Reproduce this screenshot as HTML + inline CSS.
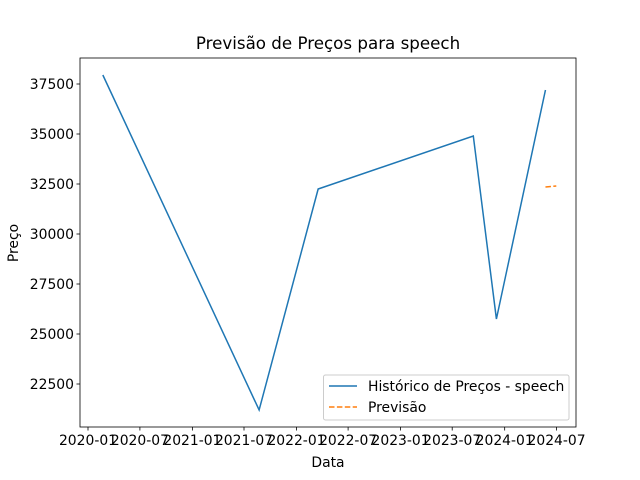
<!DOCTYPE html>
<html><head><meta charset="utf-8"><style>body{margin:0;background:#fff}svg{display:block;font-family:"DejaVu Sans","Liberation Sans",sans-serif}</style></head>
<body>
<svg id="c" width="640" height="480"></svg>
<script>
const histDates=["2020-02-22","2021-08-23","2022-03-18","2023-09-13","2023-12-03","2024-05-23"];
const histValues=[37950,21200,32250,34900,25750,37200];
const fcDates=["2024-05-23","2024-06-30"];
const fcValues=[32350,32400];
const xTicks=["2020-01","2020-07","2021-01","2021-07","2022-01","2022-07","2023-01","2023-07","2024-01","2024-07"];
const yTicks=[22500,25000,27500,30000,32500,35000,37500];
const NS="http://www.w3.org/2000/svg";
const svg=document.getElementById('c');
const L=80,R=576,T=58,B=427;
const d0=Date.parse("2020-01-01"),x0=88,pxDay=0.2852;
const FS=13.9;
function xs(d){return x0+(Date.parse(d.length===7?d+"-01":d)-d0)/86400000*pxDay;}
function ys(v){return 384-(v-22500)*0.02;}
function el(t,a,txt){const e=document.createElementNS(NS,t);for(const k in a)e.setAttribute(k,a[k]);if(txt!==undefined)e.textContent=txt;svg.appendChild(e);return e;}
let e=el('rect',{x:L,y:T,width:R-L,height:B-T,fill:'none',stroke:'#000','stroke-width':0.8});


xTicks.forEach(t=>{const x=xs(t);
 let l=el('line',{x1:x,x2:x,y1:B,y2:B+3.5,stroke:'#000','stroke-width':0.8});
 
 
 let tx=el('text',{x:x,y:B+18,'font-size':FS,'text-anchor':'middle'},t);
 
 });
yTicks.forEach(t=>{const y=ys(t);
 let l=el('line',{x1:L-3.5,x2:L,y1:y,y2:y,stroke:'#000','stroke-width':0.8});
 
 
 let tx=el('text',{x:L-6,y:y+5,'font-size':FS,'text-anchor':'end'},t);
 
 });
let p=el('polyline',{points:histDates.map((d,i)=>xs(d)+','+ys(histValues[i])).join(' '),fill:'none',stroke:'#1f77b4','stroke-width':1.5});


p=el('polyline',{points:fcDates.map((d,i)=>xs(d)+','+ys(fcValues[i])).join(' '),fill:'none',stroke:'#ff7f0e','stroke-width':1.5,'stroke-dasharray':'5.5,2.4'});


e=el('text',{x:328,y:49,'font-size':16.7,'text-anchor':'middle'},'Previsão de Preços para speech');


e=el('text',{x:328,y:467,'font-size':FS,'text-anchor':'middle'},'Data');


e=el('text',{x:18,y:243,'font-size':FS,'text-anchor':'middle',transform:'rotate(-90 18 243)'},'Preço');


e=el('rect',{x:323.5,y:375,width:245.5,height:45,rx:2,fill:'#fff','fill-opacity':0.8,stroke:'#ccc','stroke-width':1});


e=el('line',{x1:329,x2:357,y1:386,y2:386,stroke:'#1f77b4','stroke-width':1.5});


e=el('text',{x:368,y:391,'font-size':FS},'Histórico de Preços - speech');


e=el('line',{x1:329,x2:357,y1:407,y2:407,stroke:'#ff7f0e','stroke-width':1.5,'stroke-dasharray':'5.5,2.4'});


e=el('text',{x:368,y:412,'font-size':FS},'Previsão');


</script>
</body></html>
